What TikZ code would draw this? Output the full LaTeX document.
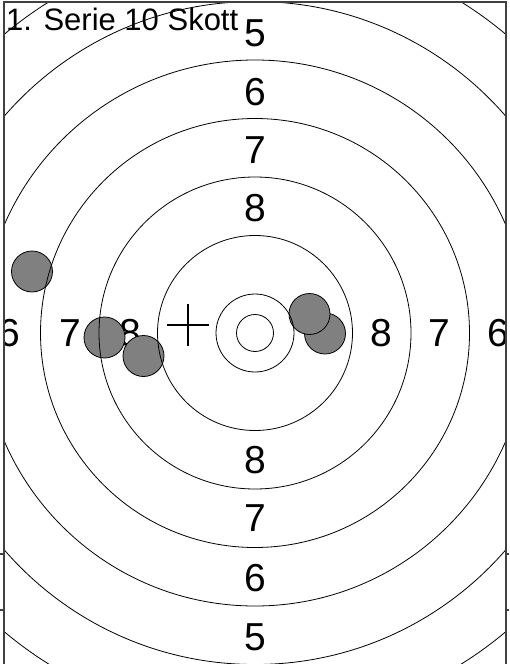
\documentclass[tikz,border=0pt]{standalone}
\usepackage{fontspec}
\setmainfont{Liberation Sans}
\begin{document}
\begin{tikzpicture}[x=1pt,y=-1pt,
  ring/.style={draw=black,line width=0.8pt},
  shot/.style={circle,draw=black,line width=0.8pt,fill=gray,minimum size=41pt,inner sep=0pt},
  lab/.style={inner sep=0pt,font=\fontsize{39}{39}\selectfont},
  frameline/.style={draw=black!75,line width=1.4pt}]
\useasboundingbox (0,0) rectangle (509,664);
\coordinate (c) at (255,333);
\begin{scope}
\clip (4,2) rectangle (506,664);
% title
\node[anchor=base west,inner sep=0pt,font=\fontsize{31}{31}\selectfont] (title) at (6,30) {1. Serie 10 Skott};
% ring labels
\node[lab] (t5) at (255,33) {5};
\node[lab] (t6) at (255,92) {6};
\node[lab] (t7) at (255,150) {7};
\node[lab] (t8) at (255,208) {8};
\node[lab] (b8) at (255,460) {8};
\node[lab] (b7) at (255,518) {7};
\node[lab] (b6) at (255,578) {6};
\node[lab] (b5) at (255,637) {5};
\node[lab] (l6) at (9,333) {6};
\node[lab] (l7) at (70,333) {7};
\node[lab] (l8) at (130,333) {8};
\node[lab] (r8) at (381,333) {8};
\node[lab] (r7) at (439,333) {7};
\node[lab] (r6) at (498,333) {6};
% shots
\node[shot] (s1) at (32,271.5) {};
\node[shot] (s3) at (143.5,356) {};
\node[shot] (s2) at (104.5,337.5) {};
\node[shot] (s4) at (325,333.5) {};
\node[shot] (s5) at (309.5,314) {};
% rings
\foreach \r in {18.5,39,97.5,156,214.5,273,331.5,390}
  \draw[ring] (c) circle[radius=\r pt];
% cross (mean point of impact)
\coordinate (m) at (188,325);
\draw[line width=1.8pt] ([xshift=-21pt]m) -- ([xshift=21pt]m);
\draw[line width=1.8pt] ([yshift=21pt]m) -- ([yshift=-21pt]m);
\end{scope}
% frame
\coordinate (tl) at (4,2);
\coordinate (tr) at (506,2);
\coordinate (bl) at (4,664);
\coordinate (br) at (506,664);
\draw[frameline] (bl) -- (tl) -- (tr) -- (br);
\foreach \y in {554,610} {
  \coordinate (la) at (0,\y); \coordinate (lb) at (4,\y);
  \coordinate (ra) at (506,\y); \coordinate (rb) at (509,\y);
  \draw[frameline] (la) -- (lb);
  \draw[frameline] (ra) -- (rb);
}
\end{tikzpicture}
\end{document}
